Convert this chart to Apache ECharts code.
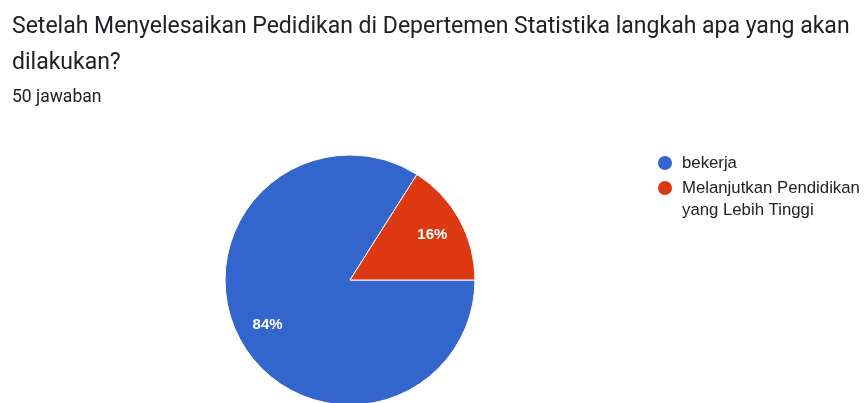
<!DOCTYPE html>
<html>
<head>
<meta charset="utf-8">
<script src="https://cdn.jsdelivr.net/npm/echarts@6/dist/echarts.min.js"></script>
<style>
  html, body { margin: 0; padding: 0; background: #fff; }
  #chart { width: 867px; height: 403px; }
</style>
</head>
<body>
<div id="chart"></div>
<script>
   var judul = 'Setelah Menyelesaikan Pedidikan di Depertemen Statistika langkah apa yang akan\ndilakukan?';
   var jumlahJawaban = '50 jawaban';
   var kategori = ['bekerja', 'Melanjutkan Pendidikan yang Lebih Tinggi'];
   var nilai = [42, 8];
   var warna = ['#3366cc', '#dc3912'];

   var pieData = [];
   for (var i = 0; i < kategori.length; i++) {
     pieData.push({ name: kategori[i], value: nilai[i] });
   }

   var chart = echarts.init(document.getElementById('chart'));
   var option = {
     color: warna,
     animation: false,
     title: {
       text: judul,
       subtext: jumlahJawaban,
       left: 12,
       top: 9,
       padding: 0,
       itemGap: 7,
       textStyle: { fontFamily: 'Roboto', fontSize: 23, fontWeight: 'normal', color: '#202124', lineHeight: 36 },
       subtextStyle: { fontFamily: 'Roboto', fontSize: 17.5, color: '#202124', lineHeight: 20 }
     },
     legend: {
       orient: 'vertical',
       left: 656,
       top: 152,
       padding: 0,
       icon: 'circle',
       itemWidth: 24,
       itemHeight: 16,
       itemGap: -19,
       textStyle: { fontFamily: 'Liberation Sans', fontSize: 16.75, color: '#222', lineHeight: 22 },
       formatter: function (name) {
         // baris kosong di atas agar ikon sejajar dengan baris pertama
         if (name.indexOf(' yang') > 0) {
           return '\n' + name.replace(' yang', '\nyang');
         }
         return name;
       },
       data: kategori
     },
     series: [
       {
         type: 'pie',
         center: [350, 280],
         radius: [0, 125],
         startAngle: 0,
         clockwise: true,
         silent: true,
         label: { show: false },
         labelLine: { show: false },
         itemStyle: { borderColor: '#fff', borderWidth: 1 },
         data: pieData
       },
       {
         // lapisan transparan untuk posisi label persen
         type: 'pie',
         center: [350, 280],
         radius: [57, 125],
         startAngle: 0,
         clockwise: true,
         silent: true,
         itemStyle: { color: 'rgba(0,0,0,0)' },
         label: {
           show: true,
           position: 'inside',
           formatter: '{d}%',
           fontFamily: 'Liberation Sans',
           fontSize: 15,
           fontWeight: 'bold',
           color: '#fff'
         },
         labelLine: { show: false },
         data: pieData
       }
     ]
   };
   chart.setOption(option);
</script>
</body>
</html>
